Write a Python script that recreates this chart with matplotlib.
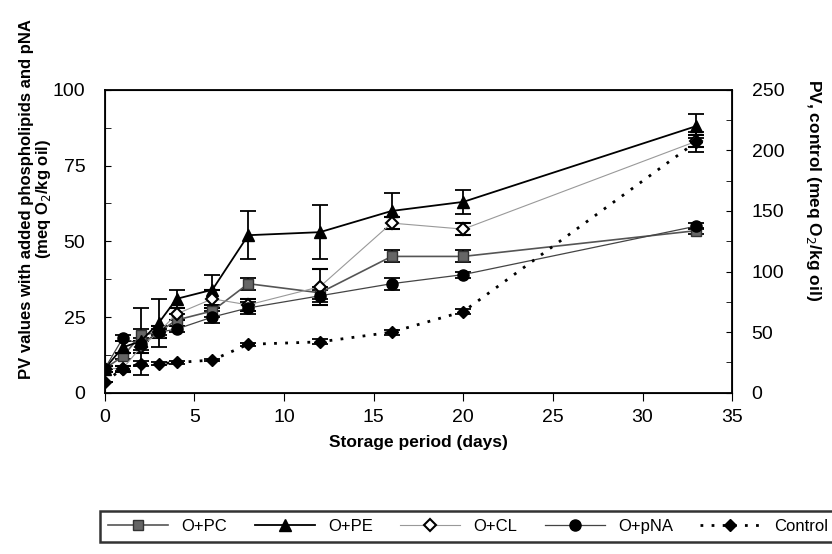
import numpy as np
import matplotlib.pyplot as plt
from matplotlib.ticker import MultipleLocator

plt.rcParams['font.family'] = ['Liberation Sans', 'DejaVu Sans']

# Storage days
days = [0, 1, 2, 3, 4, 6, 8, 12, 16, 20, 33]

# PV values with added phospholipids and pNA (left axis)
pc = [8, 12, 19, 20, 24, 27, 36, 33, 45, 45, 53.5]
pc_err = [1, 1, 2, 2, 2, 2, 2, 2, 2, 2, 1]
pe = [8, 15, 17, 23, 31, 34, 52, 53, 60, 63, 88]
pe_err = [0, 2, 11, 8, 3, 5, 8, 9, 6, 4, 4]
cl = [8, 8, 15, 20, 26, 31, 29, 35, 56, 54, 83]
cl_err = [0, 1, 2, 2, 2, 3, 2, 6, 2, 2, 2]
pna = [8, 18, 16, 20, 21, 25, 28, 32, 36, 39, 55]
pna_err = [1, 1, 2, 1, 1, 2, 2, 2, 2, 1, 1]

# Control PV (right axis)
control = [9, 20, 24, 24, 25, 27, 40, 42, 50, 67, 207]
control_err = [0, 2, 2, 1, 1, 1, 1, 2, 2, 2, 8]

fig = plt.figure(figsize=(8.32, 5.54), dpi=100)
ax = fig.add_axes([0.126, 0.291, 0.754, 0.547])
ax2 = ax.twinx()

eb = dict(capsize=6, elinewidth=1.3, capthick=1.3, ecolor='black')

h1 = ax.errorbar(days, pc, yerr=pc_err, color='#555555', lw=1.2, marker='s', ms=7,
                 mfc='#666666', mec='#333333', **eb)
h2 = ax.errorbar(days, pe, yerr=pe_err, color='black', lw=1.3, marker='^', ms=8,
                 mfc='black', mec='black', **eb)
h3 = ax.errorbar(days, cl, yerr=cl_err, color='#999999', lw=0.8, marker='D', ms=6,
                 mfc='white', mec='black', mew=1.5, **eb)
h4 = ax.errorbar(days, pna, yerr=pna_err, color='#444444', lw=0.9, marker='o', ms=8,
                 mfc='black', mec='black', **eb)
h5 = ax2.errorbar(days, control, yerr=control_err, color='black', lw=2, ls=(0, (1, 3)),
                  marker='D', ms=6, mfc='black', mec='black', **eb)

ax.set_xlim(0, 35)
ax.set_ylim(0, 100)
ax2.set_ylim(0, 250)
ax.xaxis.set_major_locator(MultipleLocator(5))
ax.yaxis.set_major_locator(MultipleLocator(25))
ax.yaxis.set_minor_locator(MultipleLocator(12.5))
ax2.yaxis.set_major_locator(MultipleLocator(50))
ax2.yaxis.set_minor_locator(MultipleLocator(25))

ax.tick_params(axis='x', direction='out', length=6, labelsize=14, pad=6)
ax.tick_params(axis='y', which='both', direction='in', length=4, labelsize=14, pad=14)
ax2.tick_params(axis='y', which='both', direction='in', length=4, labelsize=14, pad=14)
for sp in ax.spines.values():
    sp.set_linewidth(1.3)

ax.set_xlabel('Storage period (days)', fontsize=12.5, fontweight='bold', labelpad=6)
ax.set_ylabel('PV values with added phospholipids and pNA\n(meq O$_2$/kg oil)',
              fontsize=12, fontweight='bold', va='center', linespacing=1.0)
ax.yaxis.set_label_coords(-0.11, 0.64)
ax2.set_ylabel('PV, control (meq O$_2$/kg oil)', fontsize=12.5, fontweight='bold',
               rotation=-90, va='center')
ax2.yaxis.set_label_coords(1.13, 0.67)

leg = fig.legend([h[0] for h in (h1, h2, h3, h4, h5)],
                 ['O+PC', 'O+PE', 'O+CL', 'O+pNA', 'Control'],
                 loc='upper left', bbox_to_anchor=(0.12, 0.078, 0.885, 0), mode='expand',
                 ncol=5, frameon=True, fancybox=False, fontsize=12, handlelength=3.6,
                 borderaxespad=0.0, borderpad=0.5)
leg.get_frame().set_edgecolor('black')
leg.get_frame().set_linewidth(1.8)

fig.savefig('out.png', dpi=100)
